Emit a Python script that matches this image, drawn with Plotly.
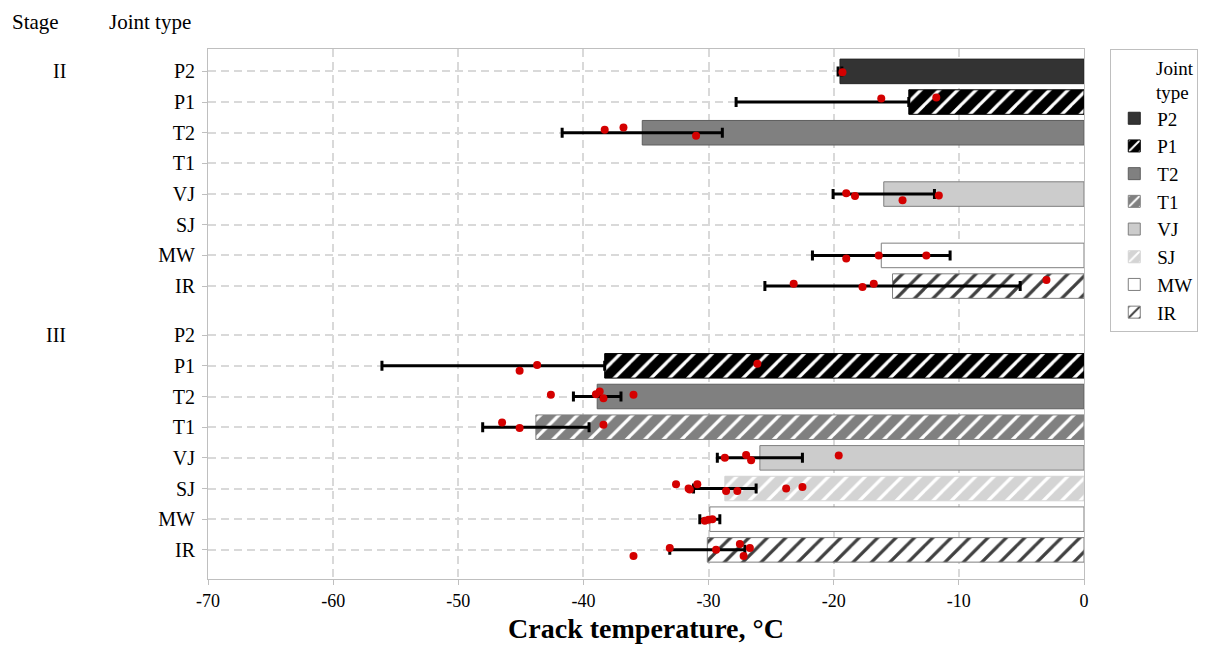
import plotly.graph_objects as go

# ---------------- data ----------------
joint_types = ["P2", "P1", "T2", "T1", "VJ", "SJ", "MW", "IR"]
stages = ["II", "III"]

mean_II = [-19.5, -14.0, -35.3, None, -16.0, None, -16.2, -15.3]
errminus_II = [0.15, 13.8, 6.4, None, 4.05, None, 5.5, 10.2]
errplus_II = [0.15, 0.0, 6.4, None, 4.05, None, 5.5, 10.2]
mean_III = [None, -38.3, -38.9, -43.8, -25.9, -28.7, -29.9, -30.1]
errminus_III = [None, 17.8, 1.9, 4.25, 3.4, 2.5, 0.8, 3.0]
errplus_III = [None, 0.0, 1.9, 4.25, 3.4, 2.5, 0.8, 3.0]

pts_II = [
    [-19.3],
    [-16.2, -11.8],
    [-38.3, -36.8, -31.0],
    [],
    [-19.0, -18.3, -14.5, -11.6],
    [],
    [-19.0, -16.4, -12.6],
    [-23.2, -17.7, -16.8, -3.0],
]
jit_II = [
    [0.03],
    [-0.12, -0.15],
    [-0.1, -0.17, 0.1],
    [],
    [-0.03, 0.06, 0.2, 0.05],
    [],
    [0.1, 0.0, 0.0],
    [-0.08, 0.03, -0.08, -0.2],
]
pts_III = [
    [],
    [-45.1, -43.7, -26.1],
    [-42.6, -39.0, -38.7, -38.4, -36.0],
    [-46.5, -45.1, -38.4],
    [-28.7, -27.0, -26.6, -19.6],
    [-32.6, -31.6, -31.5, -30.9, -28.6, -27.7, -23.8, -22.5],
    [-30.3, -30.0, -29.7],
    [-36.0, -33.1, -29.4, -27.5, -27.2, -26.7],
]
jit_III = [
    [],
    [0.16, -0.03, -0.07],
    [-0.06, -0.07, -0.16, 0.06, -0.06],
    [-0.15, 0.03, -0.08],
    [0.0, -0.09, 0.08, -0.08],
    [-0.14, 0.0, 0.03, -0.14, 0.08, 0.08, 0.0, -0.05],
    [0.05, 0.02, 0.0],
    [0.2, -0.06, 0.0, -0.19, 0.2, -0.06],
]

x_ticks = [-70, -60, -50, -40, -30, -20, -10, 0]
x_ticktext = ["-70", "-60", "-50", "-40", "-30", "-20", "-10", "0"]

# ---------------- styles ----------------
FONT = "Liberation Serif"
styles = {
    "P2": dict(bg="#333333", fg=None, line="#262626"),
    "P1": dict(bg="#000000", fg="#ffffff", line="#000000"),
    "T2": dict(bg="#808080", fg=None, line="#5e5e5e"),
    "T1": dict(bg="#808080", fg="#ffffff", line="#808080"),
    "VJ": dict(bg="#cccccc", fg=None, line="#7f7f7f"),
    "SJ": dict(bg="#d4d4d4", fg="#ffffff", line="#d4d4d4"),
    "MW": dict(bg="#ffffff", fg=None, line="#7f7f7f"),
    "IR": dict(bg="#ffffff", fg="#404040", line="#7f7f7f"),
}

n = len(joint_types)
stage_offset = [0.0, n + 0.6]
pos = {s: [i + stage_offset[k] for i in range(n)] for k, s in enumerate(stages)}

fig = go.Figure()

for j, jt in enumerate(joint_types):
    ys, xs, ep, em = [], [], [], []
    for s, means, eps, ems in (("II", mean_II, errplus_II, errminus_II),
                               ("III", mean_III, errplus_III, errminus_III)):
        if means[j] is not None:
            ys.append(pos[s][j])
            xs.append(means[j])
            ep.append(eps[j])
            em.append(ems[j])
    st = styles[jt]
    marker = dict(color=st["bg"], line=dict(color=st["line"], width=1))
    if st["fg"] is not None:
        marker["pattern"] = dict(shape="/", fgcolor=st["fg"], bgcolor=st["bg"],
                                 size=13, solidity=0.25, fillmode="replace")
    fig.add_trace(go.Bar(
        y=ys, x=xs, orientation="h", width=0.8, name=jt, marker=marker,
        error_x=dict(type="data", symmetric=False, array=ep, arrayminus=em,
                     visible=True, color="black", thickness=3, width=5),
        showlegend=True,
    ))

px_, py_ = [], []
for s, pts, jits in (("II", pts_II, jit_II), ("III", pts_III, jit_III)):
    for j in range(n):
        for v, d in zip(pts[j], jits[j]):
            px_.append(v)
            py_.append(pos[s][j] + d)
fig.add_trace(go.Scatter(x=px_, y=py_, mode="markers", showlegend=False,
                         marker=dict(color="#d40000", size=8)))

tickvals = pos["II"] + pos["III"]
ticktext = joint_types + joint_types

grid = dict(showgrid=True, gridcolor="#d9d9d9", gridwidth=1.5, griddash="8px,5px")
axcommon = dict(showline=True, mirror=True, linecolor="#bfbfbf", linewidth=1,
                ticks="outside", ticklen=5, tickcolor="#bfbfbf", zeroline=False,
                automargin=False)

NB = "\u00a0"
fig.update_layout(
    width=1210, height=650,
    margin=dict(l=208, r=126, t=49, b=71),
    plot_bgcolor="white", paper_bgcolor="white",
    barmode="overlay",
    font=dict(family=FONT, size=20, color="black"),
    xaxis=dict(range=[-70, 0], tickvals=x_ticks, ticktext=x_ticktext,
               tickfont=dict(size=18),
               title=dict(text="<b>Crack temperature, °C</b>", font=dict(size=28),
                          standoff=8),
               **grid, **axcommon),
    yaxis=dict(range=[16.55, -0.73], tickvals=tickvals, ticktext=ticktext,
               tickfont=dict(size=20), ticklabelstandoff=3, **grid, **axcommon),
    legend=dict(x=1.03, y=1.0, xanchor="left", yanchor="top",
                bordercolor="#bfbfbf", borderwidth=1, itemwidth=36,
                font=dict(size=19), tracegroupgap=0,
                title=dict(text=NB * 9 + "Joint<br>" + NB * 9 + "type",
                           font=dict(size=19))),
)

annos = [
    dict(text="Stage", x=-0.226, y=1.051, xanchor="left"),
    dict(text="Joint type", x=-0.0171, y=1.051, xanchor="right"),
]
for a in annos:
    fig.add_annotation(xref="paper", yref="paper", yanchor="middle",
                       showarrow=False, font=dict(size=21), **a)
for s in stages:
    fig.add_annotation(xref="paper", yref="y", x=-0.16, y=pos[s][0], text=s,
                       xanchor="right", yanchor="middle", showarrow=False,
                       font=dict(size=20))

fig.write_html("out.html")
